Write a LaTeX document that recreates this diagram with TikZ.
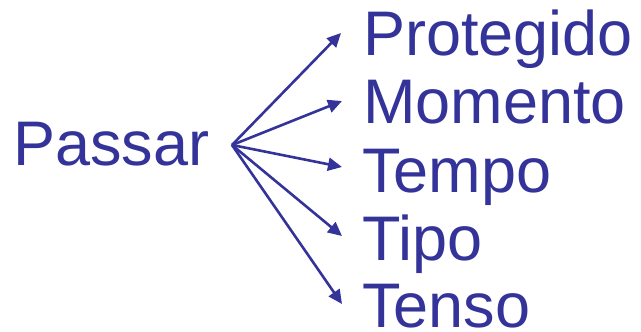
\documentclass[tikz,border=0pt]{standalone}
\usepackage{fontspec}
\setmainfont{Liberation Sans}
\usetikzlibrary{arrows.meta}
\definecolor{navy}{RGB}{51,51,153}
\begin{document}
\begin{tikzpicture}[x=1pt,y=-1pt,
  word/.style={anchor=base west,inner sep=0pt,text=navy,font=\fontsize{63}{63}\selectfont},
  arr/.style={draw=navy,line width=2.6pt,-{Triangle[length=14pt,width=13pt]}}]
\useasboundingbox (0,0) rectangle (641,332);
\node[word] (passar) at (13,165) {Passar};
\node[word] (w1) at (363,55) {Protegido};
\node[word] (w2) at (363,123) {Momento};
\node[word] (w3) at (362,192) {Tempo};
\node[word] (w4) at (362,260) {Tipo};
\node[word] (w5) at (362,327) {Tenso};
\coordinate (o) at (232,145);
\coordinate (t1) at (341,33);
\coordinate (t2) at (342,101);
\coordinate (t3) at (342,167);
\coordinate (t4) at (342,236);
\coordinate (t5) at (342,304);
\foreach \i in {1,...,5} \draw[arr] (o) -- (t\i);
\end{tikzpicture}
\end{document}
